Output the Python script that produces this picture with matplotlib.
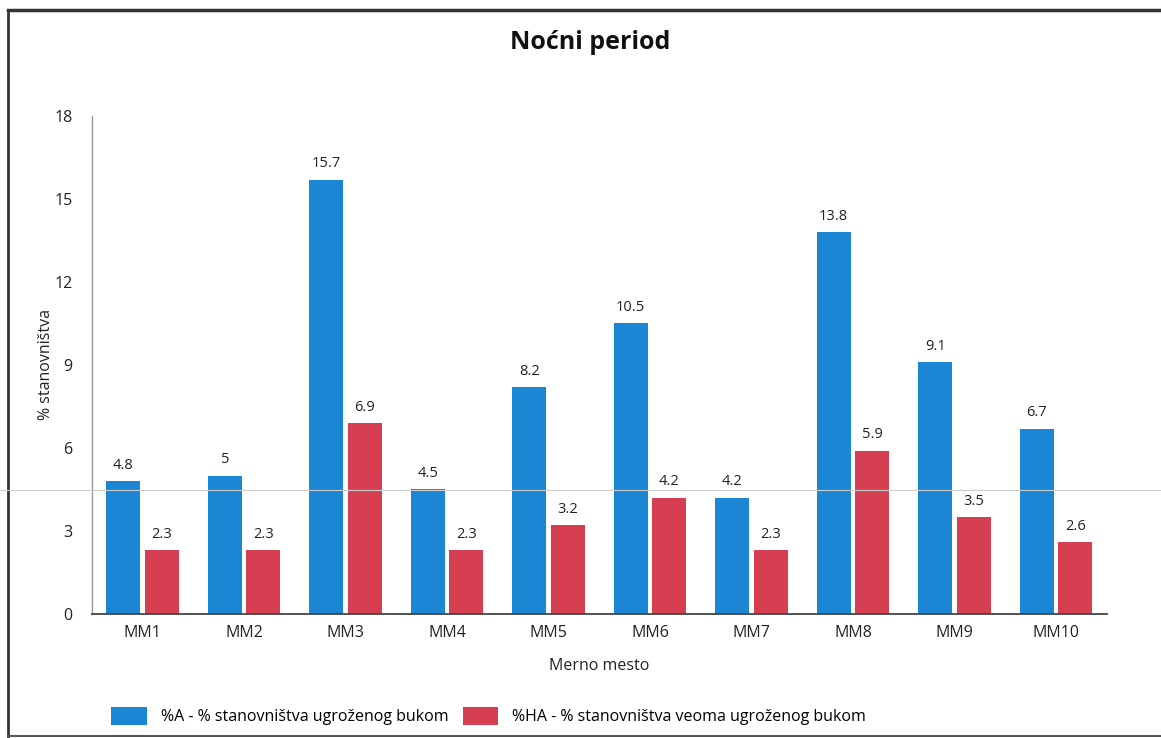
import numpy as np
import matplotlib
matplotlib.use("Agg")
import matplotlib.pyplot as plt
from matplotlib.lines import Line2D

plt.rcParams['font.family'] = ['Open Sans', 'DejaVu Sans']

categories = ["MM1", "MM2", "MM3", "MM4", "MM5", "MM6", "MM7", "MM8", "MM9", "MM10"]
a_values = [4.8, 5, 15.7, 4.5, 8.2, 10.5, 4.2, 13.8, 9.1, 6.7]
ha_values = [2.3, 2.3, 6.9, 2.3, 3.2, 4.2, 2.3, 5.9, 3.5, 2.6]
a_labels = ["4.8", "5", "15.7", "4.5", "8.2", "10.5", "4.2", "13.8", "9.1", "6.7"]
ha_labels = ["2.3", "2.3", "6.9", "2.3", "3.2", "4.2", "2.3", "5.9", "3.5", "2.6"]
y_ticks = [0, 3, 6, 9, 12, 15, 18]

blue = '#1B86D4'
red = '#D63F52'

fig = plt.figure(figsize=(11.61, 7.38), dpi=100)
ax = fig.add_axes([0.0792, 0.168, 0.874, 0.675])

x = np.arange(len(categories))
w = 0.335
off = 0.19
bars_a = ax.bar(x - off, a_values, w, color=blue, label="%A - % stanovništva ugroženog bukom")
bars_ha = ax.bar(x + off, ha_values, w, color=red, label="%HA - % stanovništva veoma ugroženog bukom")

for b, t in zip(bars_a, a_labels):
    ax.text(b.get_x() + b.get_width() / 2, b.get_height() + 0.3, t,
            ha='center', va='bottom', fontsize=10.5, color='#222222')
for b, t in zip(bars_ha, ha_labels):
    ax.text(b.get_x() + b.get_width() / 2, b.get_height() + 0.3, t,
            ha='center', va='bottom', fontsize=10.5, color='#222222')

ax.set_xlim(-0.5, len(categories) - 0.5)
ax.set_ylim(0, 18)
ax.set_yticks(y_ticks)
ax.set_xticks(x)
ax.set_xticklabels(categories)
ax.tick_params(axis='both', length=0, labelsize=11.5, colors='#222222')
ax.tick_params(axis='y', pad=14)
ax.tick_params(axis='x', pad=8)

for s in ['top', 'right']:
    ax.spines[s].set_visible(False)
ax.spines['left'].set_color('#999999')
ax.spines['left'].set_linewidth(1)
ax.spines['bottom'].set_color('#444444')
ax.spines['bottom'].set_linewidth(1.3)

ax.set_ylabel("% stanovništva", fontsize=11.5, labelpad=0, color='#222222')
ax.set_xlabel("Merno mesto", fontsize=11.5, labelpad=12, color='#222222')

fig.text(0.508, 0.943, "Noćni period", ha='center', va='center',
         fontsize=18, fontweight='bold', color='#111111')

ax.legend(loc='upper left', bbox_to_anchor=(0.005, -0.157), ncol=2, frameon=False,
          fontsize=11.5, handlelength=2.2, handleheight=1.4, handletextpad=0.9,
          columnspacing=0.9)

# scan frame and faint scan line
fig.add_artist(Line2D([0.007, 0.007], [0.0, 0.986], color='#333333', lw=2))
fig.add_artist(Line2D([0.007, 1.0], [0.986, 0.986], color='#333333', lw=2.5))
fig.add_artist(Line2D([0.007, 1.0], [0.003, 0.003], color='#555555', lw=1.5))
fig.add_artist(Line2D([0.0, 1.0], [0.336, 0.336], color='#cccccc', lw=0.8))

fig.savefig("out.png", dpi=100)
